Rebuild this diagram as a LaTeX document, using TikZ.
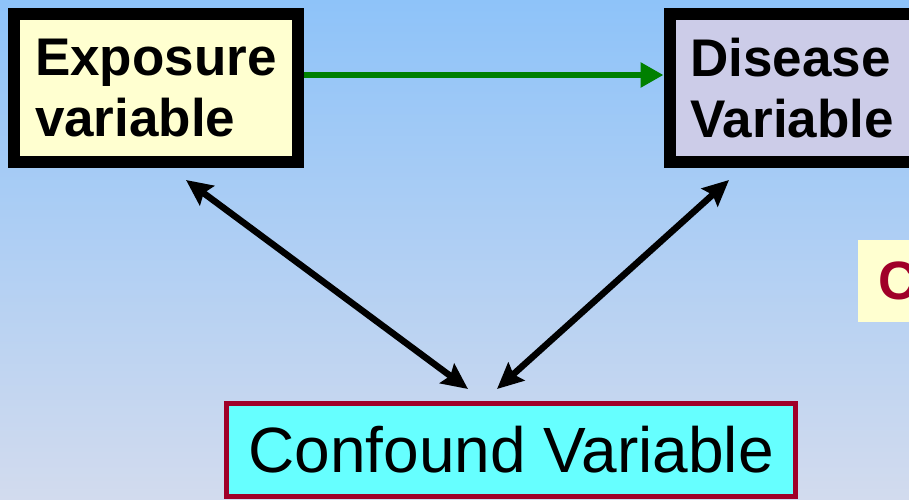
\documentclass[tikz,border=0pt]{standalone}
\usepackage{fontspec}
\setmainfont{Liberation Sans}
\usetikzlibrary{arrows.meta}
\definecolor{bgtop}{RGB}{142,195,249}
\definecolor{bgmid}{RGB}{172,205,240}
\definecolor{bgbot}{RGB}{210,219,238}
\definecolor{expfill}{RGB}{255,255,208}
\definecolor{disfill}{RGB}{204,204,232}
\definecolor{confill}{RGB}{102,255,255}
\definecolor{darkred}{RGB}{160,0,40}
\definecolor{arrowgreen}{RGB}{0,128,0}
\tikzset{
  varbox/.style={draw=black, line width=12pt, rectangle, minimum width=284pt, minimum height=148pt,
    inner xsep=21pt, text width=242pt, align=left, font=\fontsize{53}{61}\selectfont\bfseries},
  confbox/.style={draw=darkred, line width=5pt, fill=confill, rectangle, minimum width=569pt,
    minimum height=93pt, font=\fontsize{64}{70}\selectfont},
  linkarrow/.style={line width=6.5pt, black, {Stealth[length=26pt,width=24pt,inset=4pt]}-{Stealth[length=26pt,width=24pt,inset=4pt]}},
  causearrow/.style={line width=6pt, arrowgreen, -{Triangle[length=23pt,width=24pt]}}
}
\begin{document}
\begin{tikzpicture}[x=1pt,y=-1pt]
\clip (0,0) rectangle (909,499);
\shade[top color=bgtop, middle color=bgmid, bottom color=bgbot] (0,0) rectangle (909,499);
\node[varbox, fill=expfill] (exp) at (156,88) {Exposure\\variable};
\node[varbox, fill=disfill] (dis) at (811.5,88) {Disease\\Variable};
\node[confbox] (conf) at (511,450) {Confound Variable};
\node[fill=expfill, rectangle, anchor=west, minimum height=82pt, minimum width=120pt, inner xsep=20pt,
  text=darkred, font=\fontsize{54}{60}\selectfont\bfseries, align=left, text width=80pt] (note) at (858,281) {C};
\coordinate (el) at (186,180);
\coordinate (cl) at (468,389);
\coordinate (dr) at (729,180);
\coordinate (cr) at (497,389);
\draw[causearrow] (exp.east |- 0,75) -- (dis.west |- 0,75);
\draw[linkarrow] (el) -- (cl);
\draw[linkarrow] (dr) -- (cr);
\end{tikzpicture}
\end{document}
